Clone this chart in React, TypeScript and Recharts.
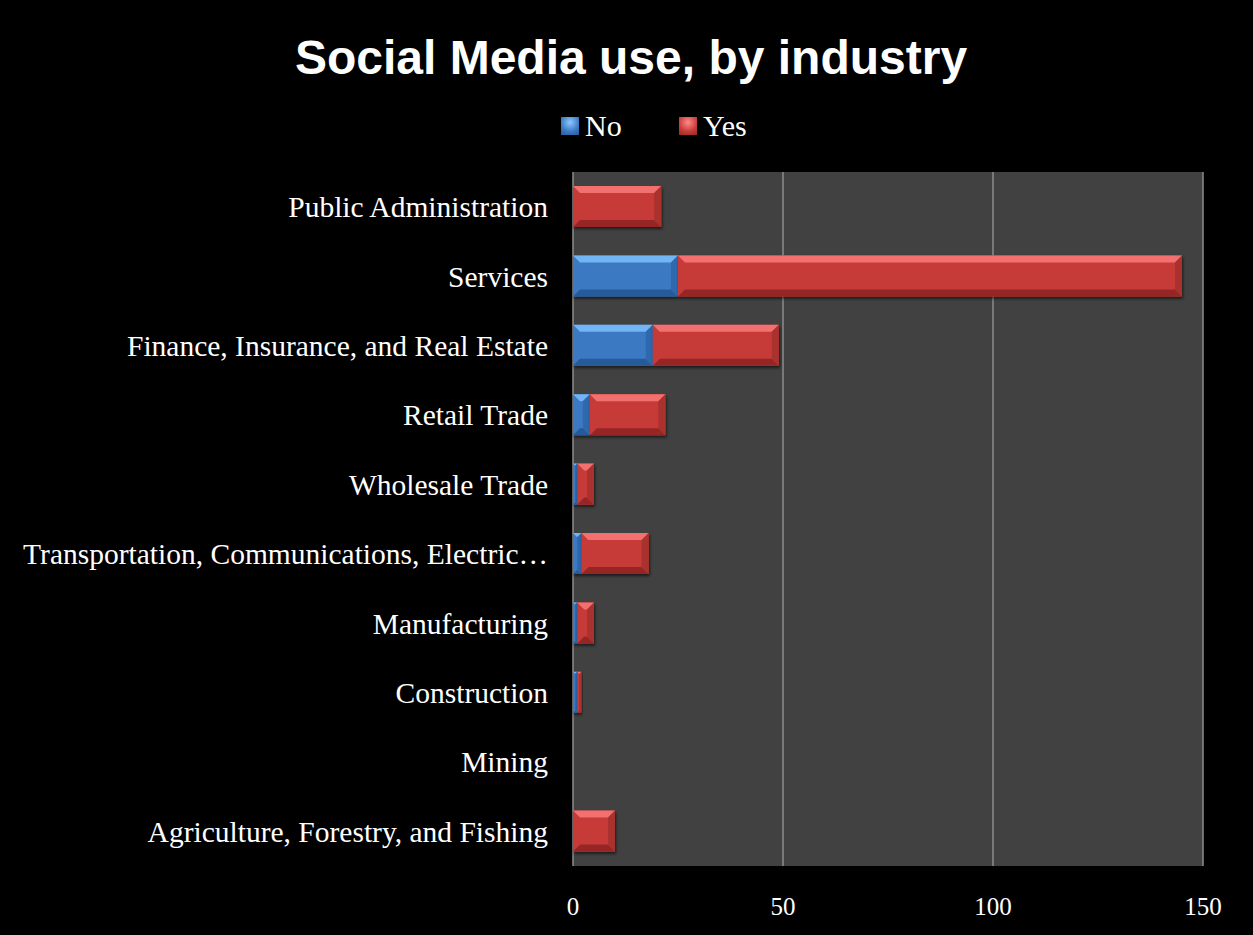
import React from 'react';
import { BarChart, Bar, XAxis, YAxis, CartesianGrid } from 'recharts';

// top to bottom, as drawn
const industries = [
  'Public Administration',
  'Services',
  'Finance, Insurance, and Real Estate',
  'Retail Trade',
  'Wholesale Trade',
  'Transportation, Communications, Electric…',
  'Manufacturing',
  'Construction',
  'Mining',
  'Agriculture, Forestry, and Fishing',
];
const noValues = [0, 25, 19, 4, 1, 2, 1, 1, 0, 0];
const yesValues = [21, 120, 30, 18, 4, 16, 4, 1, 0, 10];
const xTicks = [0, 50, 100, 150];

const data = industries.map((name, i) => ({ name, No: noValues[i], Yes: yesValues[i] }));

const palette = {
  No: { base: '#3a79c3', top: '#72b4f4', bottom: '#285a98', side: '#2f68ad' },
  Yes: { base: '#c63b39', top: '#f2716f', bottom: '#962826', side: '#aa302e' },
};

const serif = '"Liberation Serif", "Times New Roman", serif';

// bevelled bar, like the 3D look of the original
function BevelBar(props: any) {
  const { x, y, width, height, colors } = props;
  if (!width || width <= 0 || !height) return null;
  const b = Math.min(7, width / 2, height / 2);
  const r = x + width;
  const btm = y + height;
  return (
    <g filter="url(#barShadow)">
      <rect x={x} y={y} width={width} height={height} fill={colors.base} />
      <polygon points={`${x},${y} ${r},${y} ${r - b},${y + b} ${x + b},${y + b}`} fill={colors.top} />
      <polygon points={`${x},${btm} ${r},${btm} ${r - b},${btm - b} ${x + b},${btm - b}`} fill={colors.bottom} />
      <polygon points={`${r},${y} ${r},${btm} ${r - b},${btm - b} ${r - b},${y + b}`} fill={colors.side} />
    </g>
  );
}

function LegendSwatch({ color, label, left }: { color: string; label: string; left: number }) {
  return (
    <div style={{ position: 'absolute', left, top: 111, display: 'flex', alignItems: 'center' }}>
      <div
        style={{
          width: 18,
          height: 18,
          background: `radial-gradient(circle at 50% 30%, ${color === 'No' ? '#8cc8ff' : '#ff8a88'} 0%, ${color === 'No' ? '#3a79c3' : '#c63b39'} 60%, ${color === 'No' ? '#285a98' : '#962826'} 100%)`,
          marginRight: 6,
        }}
      />
      <span style={{ fontFamily: serif, fontSize: 30, color: '#fff', lineHeight: '30px' }}>{label}</span>
    </div>
  );
}

export default function App() {
  return (
    <div style={{ position: 'relative', width: 1253, height: 935, background: '#000' }}>
      <style>{`body{margin:0;background:#000}`}</style>
      <div
        style={{
          position: 'absolute',
          top: 30,
          left: 0,
          width: 1262,
          textAlign: 'center',
          fontFamily: '"Liberation Sans", Arial, sans-serif',
          fontWeight: 'bold',
          fontSize: 48,
          color: '#fff',
        }}
      >
        Social Media use, by industry
      </div>
      <LegendSwatch color="No" label="No" left={561} />
      <LegendSwatch color="Yes" label="Yes" left={679} />
      <BarChart
        width={1253}
        height={935}
        data={data}
        layout="vertical"
        margin={{ top: 172, right: 50, bottom: 0, left: 0 }}
        barSize={41}
      >
        <defs>
          <filter id="barShadow" x="-10%" y="-20%" width="130%" height="150%">
            <feDropShadow dx="1" dy="2" stdDeviation="1.5" floodColor="#000" floodOpacity="0.6" />
          </filter>
        </defs>
        <CartesianGrid horizontal={false} stroke="#8c8c8c" strokeWidth={1.5} fill="#414141" />
        <XAxis
          type="number"
          domain={[0, 150]}
          ticks={xTicks}
          height={69}
          axisLine={false}
          tickLine={false}
          tickSize={0}
          tickMargin={31}
          tick={{ fill: '#fff', fontFamily: serif, fontSize: 25 }}
        />
        <YAxis
          type="category"
          dataKey="name"
          width={573}
          axisLine={false}
          tickLine={false}
          tickSize={0}
          tickMargin={25}
          interval={0}
          tick={{ fill: '#fff', fontFamily: serif, fontSize: 29.5 }}
        />
        <Bar dataKey="No" stackId="a" isAnimationActive={false} shape={(p: any) => <BevelBar {...p} colors={palette.No} />} />
        <Bar dataKey="Yes" stackId="a" isAnimationActive={false} shape={(p: any) => <BevelBar {...p} colors={palette.Yes} />} />
      </BarChart>
    </div>
  );
}
